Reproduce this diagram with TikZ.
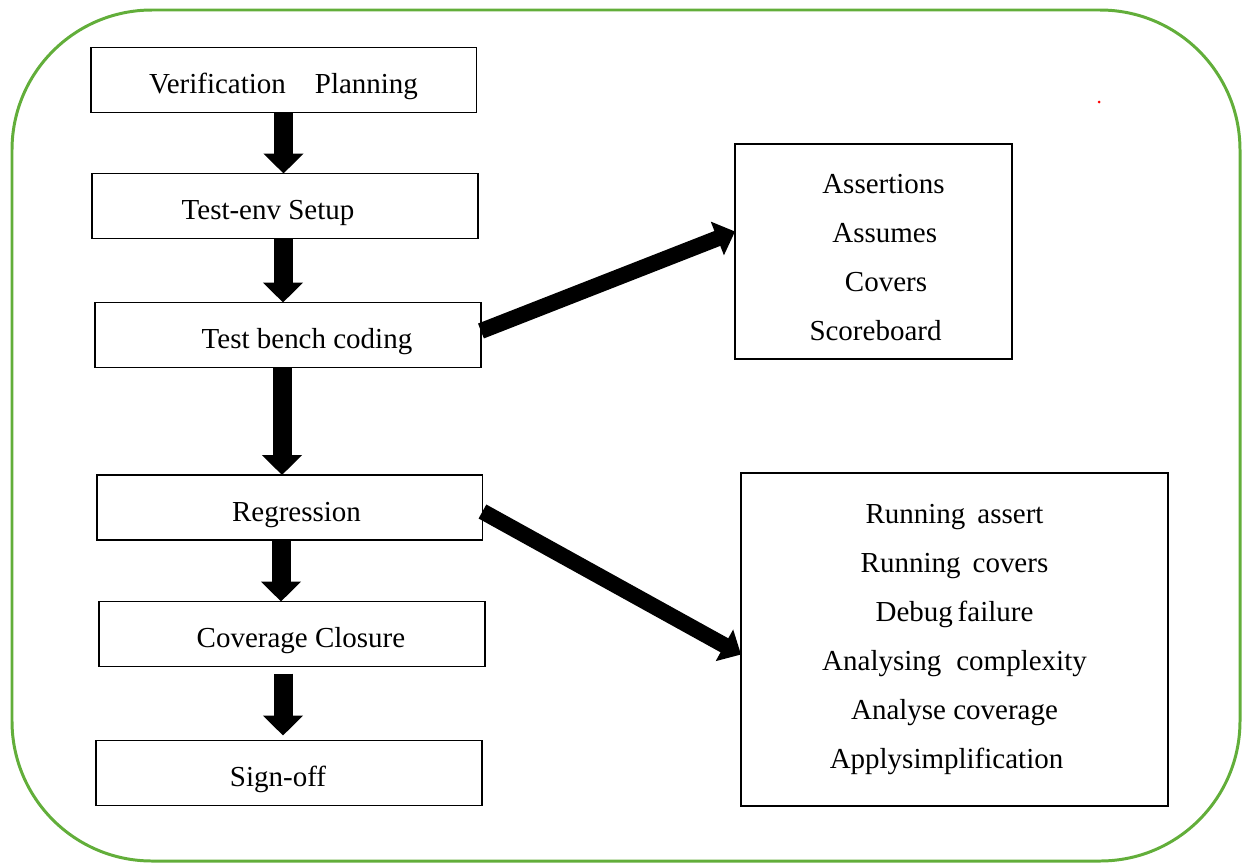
\documentclass[tikz,border=0pt]{standalone}
\usepackage{fontspec}
\setmainfont{Liberation Serif}
\usepackage{tikz}
\usetikzlibrary{arrows.meta,positioning,calc}
\definecolor{framegreen}{RGB}{98,174,58}

\tikzset{
  stage/.style={draw,line width=1.1pt,minimum width=7.72cm,minimum height=1.3cm,inner sep=0pt,outer sep=0pt,text height=0.6cm,text depth=0.06cm},
  listbox/.style={draw,line width=1.1pt,inner sep=0pt,outer sep=0pt,align=center},
  bigarrow/.style={line width=0.38cm,-{Triangle[width=0.78cm,length=0.4cm]}},
  sidearrow/.style={line width=0.32cm,-{Triangle[width=0.7cm,length=0.38cm]}}
}

\begin{document}
\begin{tikzpicture}[x=0.02cm,y=-0.02cm,font=\fontsize{16.5}{27.8}\selectfont]
				\useasboundingbox (0,0) rectangle (1248,863);
				\draw[framegreen,line width=1.7pt,rounded corners=2.8cm] (12,10) rectangle (1240,861);
				\fill[red] (1099,102) circle (0.03cm);
				
				% flow on the left
				\node[stage] (vp) at (283.5,80) {Verification\quad Planning};
				\node[stage] (te) at (285,206) {Test-env Setup\hspace*{0.68cm}};
				\node[stage] (tb) at (288,335) {\hspace*{0.76cm}Test bench coding};
				\node[stage] (reg) at (289.5,507.5) {\hspace*{0.28cm}Regression};
				\node[stage] (cc) at (292,634) {\hspace*{0.36cm}Coverage Closure};
				\node[stage] (so) at (289,773) {Sign-off\hspace*{0.44cm}};
				
				% boxes on the right
				\node[listbox,minimum width=5.54cm,minimum height=4.3cm] (chk) at (873.5,251.5)
				{\rule{0pt}{0.62cm}\hspace*{0.4cm}Assertions\\ \hspace*{0.45cm}Assumes\\ \hspace*{0.5cm}Covers\\ \hspace*{0.08cm}Scoreboard};
				\node[listbox,minimum width=8.54cm,minimum height=6.66cm] (run) at (954.5,639.5)
				{Running\, assert\\ Running\, covers\\ Debug\,failure\\ Analysing\hspace{0.3cm}complexity\\ Analyse coverage\\ Applysimplification\hspace*{0.32cm}};
				
				\draw[bigarrow] (vp.south) -- (vp.south |- te.north);
				\draw[bigarrow] ([xshift=-0.04cm]te.south) -- ([xshift=-0.04cm]te.south |- tb.north);
				\draw[bigarrow] ([xshift=-0.12cm]tb.south) -- ([xshift=-0.12cm]tb.south |- reg.north);
				\draw[bigarrow] ([xshift=-0.17cm]reg.south) -- ([xshift=-0.17cm]reg.south |- cc.north);
				\draw[bigarrow,shorten <=0.14cm,shorten >=0.1cm] ([xshift=-0.18cm]cc.south) -- ([xshift=-0.18cm]cc.south |- so.north);
				
				\draw[sidearrow] ([yshift=0.08cm]tb.east) -- ([yshift=0.4cm]chk.west);
				\draw[sidearrow] ([yshift=-0.08cm]reg.east) -- ([yshift=-0.3cm]run.west);
			\end{tikzpicture}
\end{document}
